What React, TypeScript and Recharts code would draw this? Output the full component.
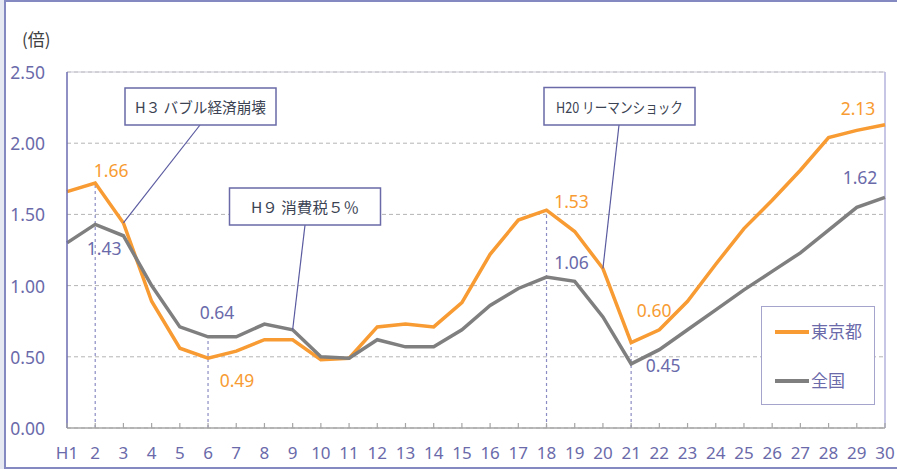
import {
  LineChart,
  Line,
  XAxis,
  YAxis,
  CartesianGrid,
  ReferenceLine,
  ReferenceDot,
  LabelList,
} from "recharts";

// ─── Data ──────────────────────────────────────────────────────────────────────

const years = [
  "H1", "2", "3", "4", "5", "6", "7", "8", "9", "10",
  "11", "12", "13", "14", "15", "16", "17", "18", "19", "20",
  "21", "22", "23", "24", "25", "26", "27", "28", "29", "30",
];

const tokyo = [
  1.66, 1.72, 1.44, 0.89, 0.56, 0.49, 0.54, 0.62, 0.62, 0.48,
  0.49, 0.71, 0.73, 0.71, 0.88, 1.22, 1.46, 1.53, 1.38, 1.12,
  0.6, 0.69, 0.89, 1.15, 1.4, 1.6, 1.81, 2.04, 2.09, 2.13,
];

const national = [
  1.3, 1.43, 1.35, 1.0, 0.71, 0.64, 0.64, 0.73, 0.69, 0.5,
  0.49, 0.62, 0.57, 0.57, 0.69, 0.86, 0.98, 1.06, 1.03, 0.78,
  0.45, 0.55, 0.69, 0.83, 0.97, 1.1, 1.23, 1.39, 1.55, 1.62,
];

const yTicks = [0, 0.5, 1.0, 1.5, 2.0, 2.5];

// labelled points: index into years, shown text
const tokyoLabels = [
  { i: 1, text: "1.66" },
  { i: 5, text: "0.49" },
  { i: 17, text: "1.53" },
  { i: 20, text: "0.60" },
  { i: 29, text: "2.13" },
];
const nationalLabels = [
  { i: 1, text: "1.43" },
  { i: 5, text: "0.64" },
  { i: 17, text: "1.06" },
  { i: 20, text: "0.45" },
  { i: 29, text: "1.62" },
];

// drop lines under these points
const dropIdx = [1, 5, 17, 20];

const events = [
  { i: 2, series: "tokyo", text: "H３ バブル経済崩壊" },
  { i: 8, series: "national", text: "H９ 消費税５％" },
  { i: 19, series: "tokyo", text: "H20 リーマンショック" },
];

// ─── Layout / style ───────────────────────────────────────────────────────────

const ORANGE = "#F79B32";
const GREY = "#7F7F7F";
const PURPLE = "#6A6AAA";
const FONT = "'Noto Sans', 'Noto Sans CJK JP', sans-serif";
const JP = "'Noto Sans CJK JP', sans-serif";

// label offsets from the point (text centre)
const tokyoLabelOffset: Record<number, [number, number]> = {
  1: [16, -13],
  5: [29, 22],
  17: [25, -9],
  20: [23, -33],
  29: [-27, -17],
};
const nationalLabelOffset: Record<number, [number, number]> = {
  1: [9, 24],
  5: [9, -25],
  17: [25, -15],
  20: [32, 1],
  29: [-25, -20],
};

// callout boxes (pixel layout) and leader start
const eventBoxes = [
  { x: 125, y: 88, w: 151, h: 37, lx: 200, textW: 131 },
  { x: 229.5, y: 188, w: 151, h: 37, lx: 305, textW: 108 },
  { x: 544, y: 87.5, w: 151, h: 37.5, lx: 619, textW: 127 },
];

const data = years.map((y, i) => ({ year: y, tokyo: tokyo[i], national: national[i] }));

function makeLabel(labels: { i: number; text: string }[], offs: Record<number, [number, number]>, color: string) {
  return (props: any) => {
    const { x, y, index } = props;
    const l = labels.find((d) => d.i === index);
    if (!l) return null;
    const [dx, dy] = offs[index];
    return (
      <text
        x={x + dx}
        y={y + dy}
        textAnchor="middle"
        dominantBaseline="central"
        fill={color}
        fontSize={17.5}
        fontFamily={FONT}
      >
        {l.text}
      </text>
    );
  };
}

function XTick({ x, y, payload }: any) {
  return (
    <g>
      <line x1={x} y1={y} x2={x} y2={y - 5} stroke="#A6A6A6" strokeWidth={1.2} />
      <text x={x} y={y + 24} textAnchor="middle" dominantBaseline="central" fill={PURPLE} fontSize={17} fontFamily={FONT}>
        {payload.value}
      </text>
    </g>
  );
}

function YTick({ x, y, payload }: any) {
  return (
    <text x={x - 14} y={y} textAnchor="end" dominantBaseline="central" fill={PURPLE} fontSize={17.5} fontFamily={FONT}>
      {Number(payload.value).toFixed(2)}
    </text>
  );
}

function callout(k: number) {
  const b = eventBoxes[k];
  const ev = events[k];
  return (props: any) => {
    const { cx, cy } = props;
    return (
      <g>
        <line x1={b.lx} y1={b.y + b.h} x2={cx} y2={cy} stroke="#5A5AA0" strokeWidth={1.2} />
        <rect x={b.x} y={b.y} width={b.w} height={b.h} fill="#fff" stroke="#6A6AA8" strokeWidth={1.5} />
        <text
          x={b.x + b.w / 2}
          y={b.y + b.h / 2}
          textAnchor="middle"
          dominantBaseline="central"
          fill="#3C4454"
          fontSize={15}
          fontFamily={JP}
          textLength={b.textW}
          lengthAdjust="spacingAndGlyphs"
        >
          {ev.text}
        </text>
      </g>
    );
  };
}

export default function App() {
  return (
    <div style={{ position: "relative", width: 897, height: 469, overflow: "hidden" }}>
      <style>{`body{margin:0;background:#E6E8F2}`}</style>
      <div
        style={{
          position: "absolute",
          left: 4,
          top: 0,
          width: 920,
          height: 469,
          boxSizing: "border-box",
          border: "2px solid #8489C2",
          background: "#fff",
        }}
      />
      <div
        style={{
          position: "absolute",
          left: 22,
          top: 28,
          fontFamily: JP,
          fontSize: 17,
          color: "#404040",
          lineHeight: "22px",
        }}
      >
        (倍)
      </div>
      <div style={{ position: "absolute", left: 0, top: 0 }}>
        <LineChart width={897} height={469} data={data} margin={{ top: 72, right: 12, bottom: 0, left: 0 }}>
          <CartesianGrid horizontal vertical={false} stroke="#B4B4B4" strokeDasharray="4 3" />
          <ReferenceLine y={2.5} stroke="#C8C8D4" strokeWidth={1.2} />
          <ReferenceLine x="30" stroke="#B4B4DC" strokeWidth={1.5} />
          {dropIdx.map((i) => (
            <ReferenceLine
              key={i}
              segment={[
                { x: years[i], y: 0 },
                { x: years[i], y: Math.max(tokyo[i], national[i]) },
              ]}
              stroke="#8C8CC4"
              strokeDasharray="3 3"
              strokeWidth={1.2}
            />
          ))}
          <XAxis
            dataKey="year"
            height={41}
            interval={0}
            tickSize={0}
            tickMargin={0}
            tickLine={false}
            axisLine={{ stroke: "#A6A6A6", strokeWidth: 1.5 }}
            tick={<XTick />}
          />
          <YAxis
            width={67}
            domain={[0, 2.5]}
            ticks={yTicks}
            tickLine={false}
            axisLine={{ stroke: "#6B6BB0", strokeWidth: 1.5 }}
            tick={<YTick />}
          />
          <Line
            type="linear"
            dataKey="tokyo"
            stroke={ORANGE}
            strokeWidth={3.5}
            dot={false}
            activeDot={false}
            isAnimationActive={false}
          >
            <LabelList dataKey="tokyo" content={makeLabel(tokyoLabels, tokyoLabelOffset, ORANGE)} />
          </Line>
          <Line
            type="linear"
            dataKey="national"
            stroke={GREY}
            strokeWidth={3.5}
            dot={false}
            activeDot={false}
            isAnimationActive={false}
          >
            <LabelList dataKey="national" content={makeLabel(nationalLabels, nationalLabelOffset, PURPLE)} />
          </Line>
          {events.map((ev, k) => (
            <ReferenceDot
              key={k}
              x={years[ev.i]}
              y={ev.series === "tokyo" ? tokyo[ev.i] : national[ev.i]}
              r={0}
              ifOverflow="visible"
              shape={callout(k)}
            />
          ))}
        </LineChart>
      </div>
      <div
        style={{
          position: "absolute",
          left: 761,
          top: 306,
          width: 114,
          height: 99,
          boxSizing: "border-box",
          border: "1.5px solid #A4A4CC",
          background: "#fff",
          fontFamily: JP,
          fontSize: 17,
          color: PURPLE,
        }}
      >
        <div style={{ position: "absolute", left: 13, top: 23, width: 34, height: 4, background: ORANGE }} />
        <div style={{ position: "absolute", left: 49, top: 12, lineHeight: "24px" }}>東京都</div>
        <div style={{ position: "absolute", left: 13, top: 72, width: 34, height: 4, background: GREY }} />
        <div style={{ position: "absolute", left: 49, top: 61, lineHeight: "24px" }}>全国</div>
      </div>
    </div>
  );
}
